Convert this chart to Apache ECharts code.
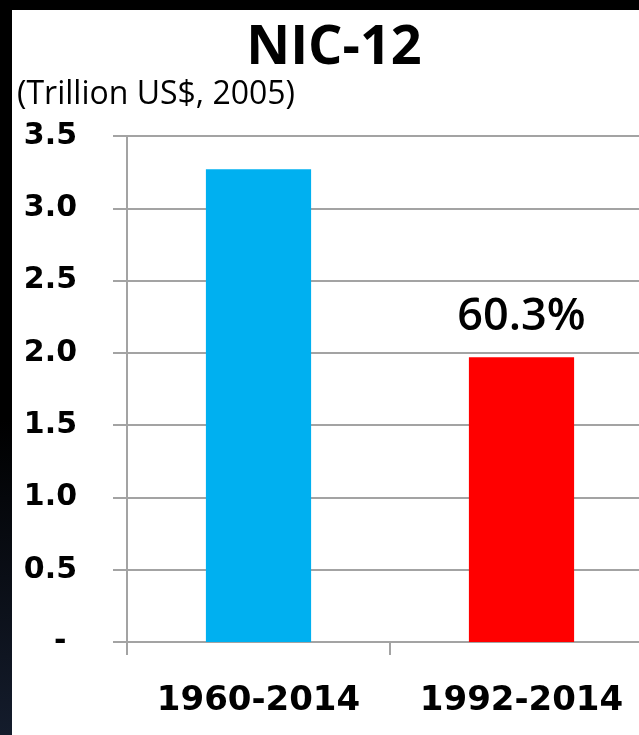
<!DOCTYPE html>
<html>
<head>
<meta charset="utf-8">
<script src="https://cdn.jsdelivr.net/npm/echarts@6/dist/echarts.min.js"></script>
<style>
html,body{margin:0;padding:0;background:#000;overflow:hidden;}
#chart{width:660px;height:735px;}
</style>
</head>
<body>
<div id="chart"></div>
<script>
const titleText = 'NIC-12';
const unitText = '(Trillion US$, 2005)';
const categories = ['1960-2014', '1992-2014'];
const values = [3.27, 1.97];
const barColors = ['#00B0F0', '#FF0000'];
const barLabels = ['', '60.3%'];
const yMin = 0, yMax = 3.5, yStep = 0.5;

const chart = echarts.init(document.getElementById('chart'), null, {renderer: 'canvas'});
const gridColor = '#a3a3a3';
chart.setOption({
  backgroundColor: '#000',
  animation: false,
  graphic: [
    {type: 'rect', z: -100, shape: {x: 12, y: 10, width: 660, height: 740}, style: {fill: '#fff'}},
    {type: 'rect', z: -100, shape: {x: 0, y: 420, width: 12, height: 315},
     style: {fill: new echarts.graphic.LinearGradient(0, 0, 0, 1, [{offset: 0, color: '#000'}, {offset: 1, color: '#141c2c'}])}}
  ],
  title: [
    {text: titleText, left: 329, top: 17, textAlign: 'center',
     textStyle: {fontFamily: 'Open Sans', fontWeight: 'bold', fontSize: 54, color: '#000'}},
    {text: unitText, left: 12, top: 74,
     textStyle: {fontFamily: 'Open Sans', fontWeight: 'normal', fontSize: 32, color: '#000'}}
  ],
  grid: {left: 127, right: 7, top: 136, bottom: 93, containLabel: false, outerBoundsMode: 'none'},
  xAxis: {
    type: 'category', data: categories,
    axisLine: {show: true, lineStyle: {color: gridColor, width: 2}},
    axisTick: {show: true, interval: 0, length: 13, lineStyle: {color: gridColor, width: 2}},
    axisLabel: {interval: 0, hideOverlap: false, margin: 42, fontFamily: 'DejaVu Sans', fontWeight: 'bold', fontSize: 34, color: '#000'}
  },
  yAxis: {
    type: 'value', min: yMin, max: yMax, interval: yStep,
    axisLine: {show: true, lineStyle: {color: gridColor, width: 2}},
    axisTick: {show: true, length: 14, lineStyle: {color: gridColor, width: 2}},
    splitLine: {show: true, lineStyle: {color: gridColor, width: 2}},
    axisLabel: {margin: 50, fontFamily: 'DejaVu Sans', fontWeight: 'bold', fontSize: 30, color: '#000',
      formatter: v => v === 0 ? '- ' : v.toFixed(1)}
  },
  series: [{
    type: 'bar', barWidth: '40%',
    data: values.map((v, i) => ({
      value: v,
      itemStyle: {color: barColors[i]},
      label: {show: barLabels[i] !== '', formatter: barLabels[i], position: 'top', distance: 18,
        fontFamily: 'Open Sans', fontWeight: 600, fontSize: 45, color: '#000'}
    }))
  }]
});
</script>
</body>
</html>
